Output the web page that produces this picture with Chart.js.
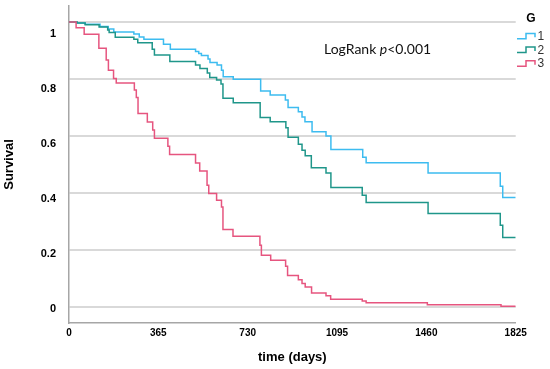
<!DOCTYPE html>
<html>
<head>
<meta charset="utf-8">
<title>Survival by G</title>
<script src="https://cdn.jsdelivr.net/npm/chart.js@4.4.1/dist/chart.umd.min.js"></script>
<style>
  html, body { margin: 0; padding: 0; background: #fff; }
  #wrap { width: 550px; height: 369px; }
</style>
</head>
<body>
<div id="wrap"><canvas id="km" width="550" height="369"></canvas></div>
<script>
// Kaplan-Meier steps: time (days) where the drop happens, survival after it
const g1Time = [0, 33, 66, 127, 160, 183, 265, 287, 306, 386, 414, 517, 530, 541, 568, 576, 605, 623, 630, 671, 783, 822, 884, 895, 937, 952, 964, 993, 1050, 1070, 1200, 1214, 1467, 1762, 1772, 1825];
const g1Surv = [1, 0.996, 0.992, 0.984, 0.975, 0.965, 0.958, 0.947, 0.939, 0.922, 0.904, 0.896, 0.889, 0.882, 0.870, 0.858, 0.849, 0.831, 0.808, 0.799, 0.758, 0.744, 0.726, 0.700, 0.685, 0.667, 0.650, 0.615, 0.600, 0.553, 0.525, 0.506, 0.470, 0.424, 0.384, 0.384];

const g2Time = [0, 33, 66, 123, 158, 164, 189, 265, 281, 340, 349, 412, 517, 535, 565, 575, 603, 621, 629, 671, 781, 822, 886, 895, 937, 952, 965, 990, 1050, 1070, 1198, 1214, 1467, 1762, 1772, 1825];
const g2Surv = [1, 0.996, 0.990, 0.982, 0.972, 0.963, 0.946, 0.939, 0.927, 0.904, 0.884, 0.861, 0.849, 0.837, 0.821, 0.805, 0.796, 0.782, 0.732, 0.717, 0.665, 0.650, 0.629, 0.596, 0.571, 0.550, 0.531, 0.489, 0.470, 0.419, 0.392, 0.367, 0.328, 0.287, 0.244, 0.244];

const g3Time = [0, 29, 62, 122, 152, 161, 182, 193, 267, 275, 282, 320, 342, 349, 404, 411, 517, 534, 564, 571, 603, 623, 629, 670, 780, 786, 824, 885, 893, 937, 952, 965, 991, 1050, 1069, 1198, 1214, 1464, 1765, 1825];
const g3Surv = [1, 0.980, 0.957, 0.908, 0.867, 0.831, 0.802, 0.786, 0.761, 0.735, 0.679, 0.649, 0.621, 0.592, 0.564, 0.535, 0.505, 0.477, 0.427, 0.398, 0.375, 0.351, 0.272, 0.248, 0.217, 0.182, 0.164, 0.143, 0.111, 0.096, 0.083, 0.070, 0.049, 0.040, 0.027, 0.021, 0.015, 0.008, 0.003, 0.003];

const groupLabels = ['1', '2', '3'];
const groupColors = ['#3dbcf0', '#1f968a', '#e6557f'];
const legendTitle = 'G';

const xTicks = [0, 365, 730, 1095, 1460, 1825];
const yTicks = [0, 0.2, 0.4, 0.6, 0.8, 1];

const toPoints = (times, surv) => times.map((t, i) => ({ x: t, y: surv[i] }));

const makeDataset = (idx, times, surv) => ({
  label: groupLabels[idx],
  data: toPoints(times, surv),
  borderColor: groupColors[idx],
  backgroundColor: groupColors[idx],
  borderWidth: 1.5,
  pointRadius: 0,
  stepped: 'before',
  fill: false,
  yAxisID: 'y',
  order: 3 - idx,
});

const tickFont = { family: '"Liberation Sans", Arial, sans-serif', weight: 'bold', size: 11, lineHeight: 1 };
const titleFont = { family: '"Liberation Sans", Arial, sans-serif', weight: 'bold', size: 13 };

// legend with step icons + log-rank note
const groupLegend = {
  id: 'groupLegend',
  afterDraw(chart) {
    const ctx = chart.ctx;
    ctx.save();
    ctx.fillStyle = '#000';
    ctx.font = 'bold 12px "Liberation Sans", Arial, sans-serif';
    ctx.textAlign = 'center';
    ctx.textBaseline = 'middle';
    ctx.fillText(legendTitle, 531, 19);

    const rows = [36, 49.7, 63.4];
    ctx.font = '12px "Liberation Sans", Arial, sans-serif';
    ctx.textAlign = 'left';
    groupLabels.forEach((lab, i) => {
      const c = rows[i];
      ctx.strokeStyle = groupColors[i];
      ctx.lineWidth = 1.5;
      ctx.beginPath();
      ctx.moveTo(517, c + 2.8);
      ctx.lineTo(526, c + 2.8);
      ctx.lineTo(526, c - 2.6);
      ctx.lineTo(535, c - 2.6);
      ctx.lineTo(535, c + 1.3);
      ctx.stroke();
      ctx.fillStyle = '#333';
      ctx.fillText(lab, 537.5, c + 0.5);
    });

    // LogRank p<0.001, p in italics
    const x0 = 324, y0 = 49;
    ctx.fillStyle = '#111';
    ctx.textBaseline = 'middle';
    ctx.font = '14px Lato, "Liberation Sans", sans-serif';
    ctx.fillText('LogRank ', x0, y0);
    let x1 = x0 + ctx.measureText('LogRank ').width;
    ctx.font = 'italic 14px Lato, "Liberation Sans", sans-serif';
    ctx.fillText('p', x1, y0);
    x1 += ctx.measureText('p').width;
    ctx.font = '14px Lato, "Liberation Sans", sans-serif';
    ctx.fillText('<0.001', x1, y0);
    ctx.restore();
  },
};

new Chart(document.getElementById('km'), {
  type: 'line',
  data: {
    datasets: [
      makeDataset(0, g1Time, g1Surv),
      makeDataset(1, g2Time, g2Surv),
      makeDataset(2, g3Time, g3Surv),
    ],
  },
  options: {
    responsive: false,
    animation: false,
    devicePixelRatio: 1,
    layout: { padding: { left: 0, right: 34.3, top: 6, bottom: 0 } },
    plugins: {
      legend: { display: false },
      tooltip: { enabled: false },
    },
    scales: {
      x: {
        type: 'linear',
        min: 0,
        max: 1825,
        afterBuildTicks: (axis) => { axis.ticks = xTicks.map((v) => ({ value: v })); },
        afterFit: (axis) => { axis.height = 46; },
        grid: { display: false, drawTicks: false },
        border: { display: true, color: '#a6a6a6', width: 1.5 },
        ticks: {
          maxRotation: 0,
          autoSkip: false,
          padding: 5,
          color: '#000',
          font: { ...tickFont, size: 10 },
          callback: (v) => String(v),
        },
        title: {
          display: true,
          text: 'time (days)',
          color: '#000',
          font: titleFont,
          padding: { top: 0, bottom: 4 },
        },
      },
      // scale the curves and gridlines live on
      y: {
        position: 'left',
        weight: 0,
        min: -0.056,
        max: 1.056,
        afterBuildTicks: (axis) => { axis.ticks = yTicks.map((v) => ({ value: v })); },
        afterFit: (axis) => { axis.width = 13; },
        grid: { color: '#d9d9d9', lineWidth: 2, drawTicks: false },
        border: { display: true, color: '#a6a6a6', width: 1.5 },
        ticks: { display: false },
      },
      // the tick labels sit a little lower than the gridlines in the original
      yl: {
        position: 'left',
        weight: 1,
        min: -0.0509,
        max: 1.1018,
        afterBuildTicks: (axis) => { axis.ticks = yTicks.map((v) => ({ value: v })); },
        afterFit: (axis) => { axis.width = 56; },
        grid: { display: false, drawTicks: false },
        border: { display: false },
        ticks: {
          padding: 0,
          color: '#000',
          font: tickFont,
          callback: (v) => String(v),
        },
        title: {
          display: true,
          text: 'Survival',
          color: '#000',
          font: titleFont,
          padding: { top: 2, bottom: 0 },
        },
      },
    },
  },
  plugins: [groupLegend],
});
</script>
</body>
</html>
